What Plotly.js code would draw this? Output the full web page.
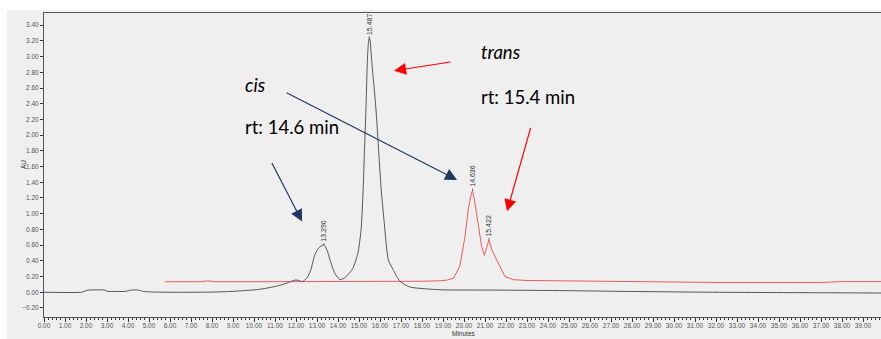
<!DOCTYPE html>
<html>
<head>
<meta charset="utf-8">
<script src="https://cdn.plot.ly/plotly-3.0.1.min.js"></script>
<style>
html,body{margin:0;padding:0;overflow:hidden;background:#fff;}
#chart{width:885px;height:339px;}
</style>
</head>
<body>
<div id="chart"></div>
<script>
// Black trace (cis sample)
const blackTime = [0, 1.8, 1.9, 2.05, 2.3, 2.9, 3.0, 3.2, 3.9, 4.1, 4.33, 4.6, 4.7, 5.2, 6, 7, 8, 8.86, 9.5, 10.2, 10.76, 11.1, 11.38, 11.7, 11.95, 12.15, 12.29, 12.52, 12.7, 12.9, 13.1, 13.33, 13.5, 13.62, 13.85, 14.1, 14.35, 14.7, 14.95, 15.1, 15.2, 15.26, 15.33, 15.4, 15.45, 15.49, 15.53, 15.6, 15.81, 16.05, 16.19, 16.4, 16.62, 16.95, 17.43, 18.38, 19, 21, 23, 25, 28, 32, 36, 40];
const blackAU   = [0.00, 0.00, 0.01, 0.025, 0.03, 0.028, 0.012, 0.01, 0.012, 0.025, 0.03, 0.022, 0.012, 0.003, 0.0, 0.0, 0.002, 0.01, 0.02, 0.035, 0.06, 0.08, 0.10, 0.13, 0.155, 0.15, 0.135, 0.18, 0.28, 0.48, 0.57, 0.605, 0.52, 0.41, 0.24, 0.16, 0.19, 0.30, 0.50, 0.80, 1.33, 1.8, 2.32, 2.96, 3.18, 3.24, 3.2, 2.96, 2.32, 1.33, 0.92, 0.41, 0.29, 0.14, 0.066, 0.04, 0.03, 0.028, 0.025, 0.02, 0.01, 0.0, -0.005, -0.01];

// Red trace (trans sample)
const redTime = [5.76, 7.5, 7.8, 8.1, 10, 12, 14, 16, 18, 18.86, 19.2, 19.5, 19.8, 20.05, 20.2, 20.32, 20.41, 20.52, 20.68, 20.84, 20.97, 21.08, 21.19, 21.32, 21.52, 21.71, 21.95, 22.35, 23, 26, 29, 32, 35, 37, 38, 40];
const redAU   = [0.134, 0.134, 0.146, 0.134, 0.134, 0.134, 0.134, 0.136, 0.14, 0.146, 0.155, 0.18, 0.33, 0.71, 1.05, 1.22, 1.30, 1.14, 0.84, 0.58, 0.47, 0.56, 0.67, 0.54, 0.44, 0.33, 0.2, 0.16, 0.15, 0.14, 0.13, 0.125, 0.125, 0.125, 0.135, 0.135];

// Peak labels
const peakTime  = [15.49, 13.33, 20.41, 21.19];
const peakAU    = [3.24, 0.605, 1.30, 0.67];
const peakLabel = ["15.487", "13.290", "14.636", "15.422"];

// Text labels
const noteText = ["<i>cis</i>", "rt: 14.6 min", "<i>trans</i>", "rt: 15.4 min"];
const noteTime = [9.48, 9.48, 20.71, 20.71];
const noteAU   = [2.64, 2.11, 3.06, 2.48];

// Arrows: head position (data) and tail offset
const arrowTime = [16.67, 19.67, 12.29, 22.05];
const arrowAU   = [2.82, 1.43, 0.90, 1.03];
const arrowDX   = [58, -172, -31, 24];
const arrowDY   = [-9, -88, -60, -85];
const arrowColor = ["#ff0000", "#1f3864", "#1f3864", "#ff0000"];

const traces = [
  {x: redTime, y: redAU, mode: 'lines', line: {color: '#f05a5a', width: 1}, hoverinfo: 'skip'},
  {x: blackTime, y: blackAU, mode: 'lines', line: {color: '#555555', width: 1, shape: 'spline', smoothing: 0.6}, hoverinfo: 'skip'}
];

const annotations = [];
for (let i = 0; i < peakTime.length; i++) {
  annotations.push({x: peakTime[i], y: peakAU[i], xref: 'x', yref: 'y', text: peakLabel[i],
    textangle: -90, showarrow: true, arrowhead: 0, arrowwidth: 0.8, arrowcolor: '#333',
    ax: 0, ay: -14, standoff: 0,
    font: {family: 'Liberation Sans, Arial', size: 7, color: '#333'}});
}
for (let i = 0; i < noteText.length; i++) {
  annotations.push({x: noteTime[i], y: noteAU[i], xref: 'x', yref: 'y', text: noteText[i],
    showarrow: false, xanchor: 'left', yanchor: 'middle',
    font: {family: 'Lato, Noto Sans', size: 18.5, color: '#000'}});
}
for (let i = 0; i < arrowTime.length; i++) {
  annotations.push({x: arrowTime[i], y: arrowAU[i], xref: 'x', yref: 'y', text: '',
    showarrow: true, arrowhead: 2, arrowsize: 2, arrowwidth: 1.2, arrowcolor: arrowColor[i],
    ax: arrowDX[i], ay: arrowDY[i], standoff: 0});
}
annotations.push({xref: 'paper', yref: 'paper', x: 0.5, y: -0.055, text: 'Minutes', showarrow: false,
  xanchor: 'center', yanchor: 'middle', font: {family: 'Liberation Sans, Arial', size: 6.5, color: '#333'}});
annotations.push({xref: 'paper', yref: 'paper', x: -0.025, y: 0.5, text: 'AU', showarrow: false, textangle: -90,
  xanchor: 'center', yanchor: 'middle', font: {family: 'Liberation Sans, Arial', size: 6.5, color: '#333'}});

const layout = {
  width: 885, height: 339,
  margin: {l: 44, r: 1, t: 13, b: 22},
  paper_bgcolor: '#ffffff',
  plot_bgcolor: '#efefef',
  showlegend: false,
  xaxis: {range: [0, 40], tick0: 0, dtick: 1, tickformat: '.2f', ticks: 'outside', ticklen: 4,
    tickcolor: '#333', tickwidth: 1, ticklabelstandoff: -2,
    minor: {dtick: 0.2, ticks: 'outside', ticklen: 2, tickcolor: '#333'},
    showgrid: false, zeroline: false, showline: true, linecolor: '#555', linewidth: 1, mirror: true,
    tickfont: {family: 'Liberation Sans, Arial', size: 6.5, color: '#555'}},
  yaxis: {range: [-0.315, 3.555], tick0: 0, dtick: 0.2, tickformat: '.2f', ticks: 'outside', ticklen: 3,
    tickcolor: '#333', showgrid: false, zeroline: false, showline: true, linecolor: '#555', linewidth: 1, mirror: true,
    tickfont: {family: 'Liberation Sans, Arial', size: 6.5, color: '#555'}},
  shapes: [{type: 'rect', xref: 'paper', yref: 'paper', x0: -0.044, x1: 1.1, y0: -0.2, y1: 1.0099,
    fillcolor: '#efefef', line: {width: 0}, layer: 'below'}],
  annotations: annotations
};

Plotly.newPlot('chart', traces, layout, {displayModeBar: false, staticPlot: true});
</script>
</body>
</html>
